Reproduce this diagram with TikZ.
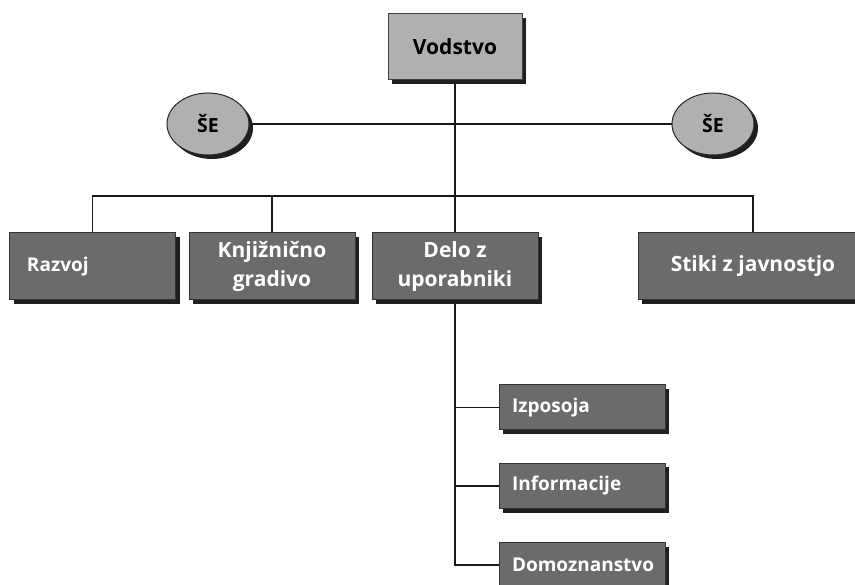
\documentclass[tikz,border=0pt]{standalone}
\usepackage{fontspec}
\setmainfont{Open Sans}
\usetikzlibrary{shapes.geometric,shadows,backgrounds}

\tikzset{
  shade box/.style={drop shadow={shadow xshift=4pt,shadow yshift=-4pt,fill=black!88,opacity=1}},
  head/.style={draw=black!75,fill=black!31,line width=1pt,shade box,
    minimum width=134pt,minimum height=66pt,
    font=\bfseries\fontsize{21}{26}\selectfont},
  se/.style={ellipse,draw=black!85,fill=black!31,line width=1pt,shade box,
    minimum width=82pt,minimum height=62pt,inner sep=0pt,
    font=\bfseries\fontsize{19.5}{22}\selectfont},
  unit/.style={draw=black!80,fill=black!58,text=white,line width=1pt,shade box,
    minimum width=166pt,minimum height=67pt,align=center,
    font=\bfseries\fontsize{21}{29}\selectfont},
  sub/.style={unit,minimum height=45pt,text width=140pt,inner xsep=13pt,align=left,
    font=\bfseries\fontsize{19}{21}\selectfont},
  link/.style={line width=1.3pt,black!90}
}

\begin{document}
\begin{tikzpicture}[x=1pt,y=-1pt]
  \useasboundingbox (0,0) rectangle (855,585);

  \node[head] (vodstvo) at (455,47) {Vodstvo};
  \node[se]   (seL) at (208,124) {ŠE};
  \node[se]   (seR) at (713,124) {ŠE};

  \node[unit,text width=131pt,inner xsep=17pt,align=left,
        font=\bfseries\fontsize{19}{24}\selectfont] (razvoj) at (92.5,266.5) {Razvoj};
  \node[unit] (gradivo) at (272,266.5) {Knjižnično\\gradivo};
  \node[unit] (delo)    at (455,266.5) {Delo z\\uporabniki};
  \node[unit,minimum width=230pt] (stiki) at (753,266.5) {Stiki z javnostjo};

  \node[sub] (izposoja)    at (582,407.5) {Izposoja};
  \node[sub] (informacije) at (582,486)   {Informacije};
  \node[sub] (domoz)       at (582,565)   {Domoznanstvo};

  \coordinate (bus) at (455,196);

  \begin{scope}[on background layer]
    \draw[link] (seL) -- (seR);
    \draw[link] (vodstvo) -- (delo);
    \draw[link] (razvoj.north) |- (bus) -| (stiki.north);
    \draw[link] (gradivo.north) -- (gradivo.north |- bus);
    \draw[link] (delo.south) |- (domoz.west);
    \foreach \n in {izposoja,informacije}
      \draw[link] (delo.south |- \n.west) -- (\n.west);
  \end{scope}
\end{tikzpicture}
\end{document}
